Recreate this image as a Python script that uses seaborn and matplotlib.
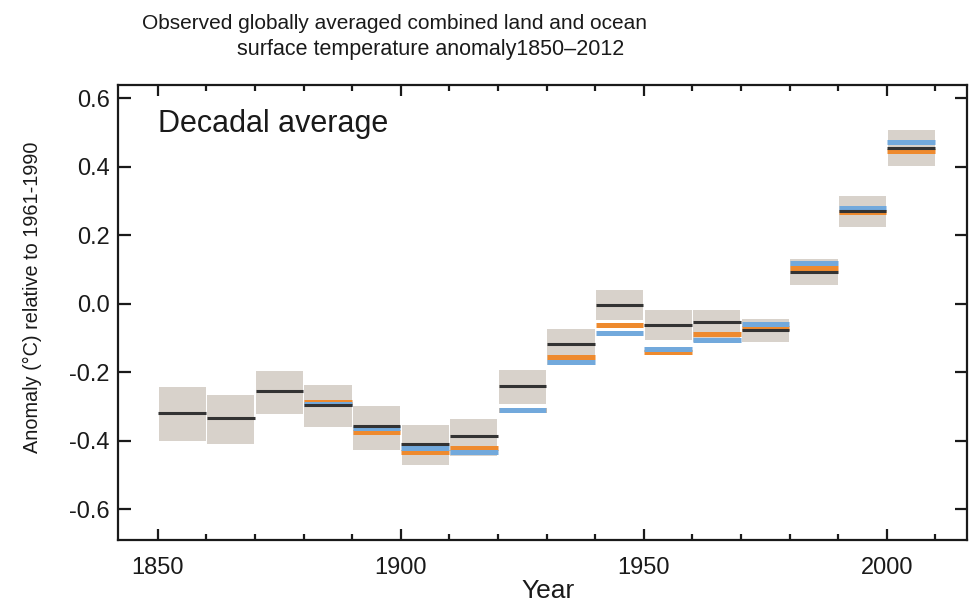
import numpy as np
import pandas as pd
import matplotlib
matplotlib.use("Agg")
import matplotlib.pyplot as plt
import seaborn as sns
from matplotlib.ticker import MultipleLocator

# decade start years
decades = np.arange(1850, 2010, 10)

# HadCRUT4 decadal means (black) and its uncertainty range (grey boxes)
hadcrut = [-0.318, -0.334, -0.256, -0.297, -0.358, -0.409, -0.385, -0.240,
           -0.118, -0.003, -0.062, -0.053, -0.078, 0.093, 0.270, 0.453]
hadcrut_lo = [-0.401, -0.410, -0.321, -0.360, -0.427, -0.471, -0.444, -0.294,
              -0.178, -0.047, -0.105, -0.113, -0.112, 0.053, 0.224, 0.403]
hadcrut_hi = [-0.243, -0.266, -0.196, -0.238, -0.300, -0.353, -0.336, -0.194,
              -0.073, 0.039, -0.020, -0.018, -0.044, 0.130, 0.315, 0.506]

# NOAA MLOST (orange) and NASA GISS (blue), no data before 1880
mlost = [np.nan, np.nan, np.nan, -0.286, -0.374, -0.434, -0.420, -0.310,
         -0.157, -0.063, -0.142, -0.088, -0.070, 0.104, 0.268, 0.445]
giss = [np.nan, np.nan, np.nan, -0.293, -0.362, -0.420, -0.434, -0.310,
        -0.171, -0.086, -0.133, -0.105, -0.059, 0.118, 0.278, 0.473]

yticks = [-0.6, -0.4, -0.2, 0.0, 0.2, 0.4, 0.6]
ytick_labels = ["-0.6", "-0.4", "-0.2", "0.0", "0.2", "0.4", "0.6"]

df = pd.DataFrame({"decade": decades, "hadcrut": hadcrut, "lo": hadcrut_lo,
                   "hi": hadcrut_hi, "mlost": mlost, "giss": giss})

sns.set_theme(style="ticks")
plt.rcParams["font.family"] = ["Liberation Sans", "DejaVu Sans"]

fig = plt.figure(figsize=(9.69, 6.05), dpi=100)
ax = fig.add_axes([0.1218, 0.1074, 0.8762, 0.7521])

# grey uncertainty boxes
ax.bar(df["decade"] + 0.15, df["hi"] - df["lo"], bottom=df["lo"], width=9.7,
       align="edge", color="#d8d2cb", edgecolor="none", zorder=1)

# decadal means: orange, then blue, then black on top
m = df["mlost"].notna()
ax.hlines(df.loc[m, "mlost"], df.loc[m, "decade"] + 0.1, df.loc[m, "decade"] + 9.9,
          color="#ee8a2e", linewidth=3.6, zorder=2)
g = df["giss"].notna()
ax.hlines(df.loc[g, "giss"], df.loc[g, "decade"] + 0.1, df.loc[g, "decade"] + 9.9,
          color="#72a9dc", linewidth=3.6, zorder=3)
ax.hlines(df["hadcrut"], df["decade"] + 0.1, df["decade"] + 9.9,
          color="#333333", linewidth=2.2, zorder=4)

ax.set_xlim(1841.8, 2016.5)
ax.set_ylim(-0.69, 0.638)
ax.set_xticks([1850, 1900, 1950, 2000])
ax.xaxis.set_minor_locator(MultipleLocator(10))
ax.set_yticks(yticks)
ax.set_yticklabels(ytick_labels)

for s in ax.spines.values():
    s.set_visible(True)
    s.set_linewidth(1.6)
    s.set_color("#1a1a1a")
ax.tick_params(which="both", direction="in", top=True, right=True,
               width=1.6, color="#1a1a1a", labelsize=17, labelcolor="#1a1a1a")
ax.tick_params(axis="x", which="major", length=8, pad=12)
ax.tick_params(axis="x", which="minor", length=4)
ax.tick_params(axis="y", which="major", length=9, pad=6)

ax.set_xlabel("Year", fontsize=19, color="#1a1a1a")
ax.xaxis.set_label_coords(0.506, -0.086)
ax.set_ylabel("Anomaly (°C) relative to 1961-1990", fontsize=14.3, color="#1a1a1a")
ax.yaxis.set_label_coords(-0.09, 0.534)

ax.text(0.047, 0.897, "Decadal average", transform=ax.transAxes,
        fontsize=22, color="#1a1a1a", va="baseline", ha="left")

fig.text(394 / 969, 1 - 28.7 / 605,
         "Observed globally averaged combined land and ocean",
         ha="center", va="baseline", fontsize=15, color="#1a1a1a")
fig.text(431 / 969, 1 - 55.5 / 605,
         "surface temperature anomaly1850\u20132012",
         ha="center", va="baseline", fontsize=15.5, color="#1a1a1a")

fig.savefig("out.png", dpi=100)
